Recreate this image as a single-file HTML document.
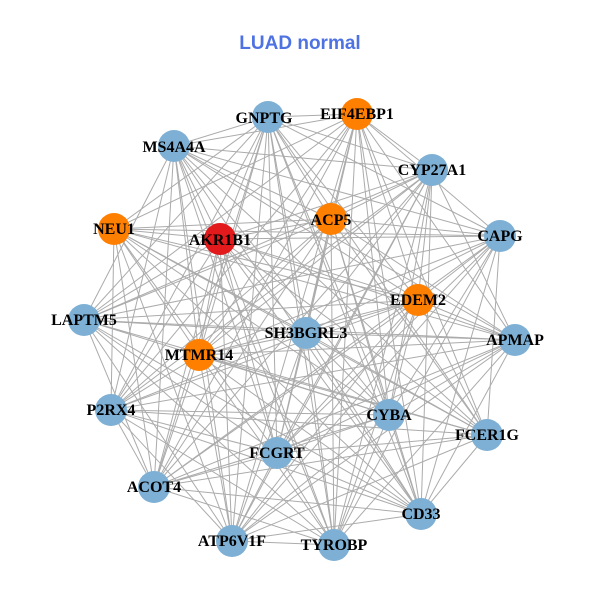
<!DOCTYPE html>
<html><head><meta charset="utf-8"><style>
html,body{margin:0;padding:0;background:#fff;}
svg{display:block;}
text.l{font-family:"Liberation Serif",serif;font-weight:bold;font-size:16px;fill:#000;text-anchor:middle;}
</style></head><body>
<svg id="s" width="600" height="600" xmlns="http://www.w3.org/2000/svg">
<rect width="600" height="600" fill="#fff"/>
<text x="300" y="49" font-family="Liberation Sans,sans-serif" font-weight="bold" font-size="19" fill="#4f72e3" text-anchor="middle">LUAD normal</text>
<g id="e" stroke="#ababab" stroke-width="1"></g>
<g id="n"></g>
<g>
<text class="l" x="264" y="123">GNPTG</text>
<text class="l" x="357" y="119">EIF4EBP1</text>
<text class="l" x="174" y="152">MS4A4A</text>
<text class="l" x="432" y="175">CYP27A1</text>
<text class="l" x="114" y="234">NEU1</text>
<text class="l" x="220" y="245">AKR1B1</text>
<text class="l" x="331" y="225">ACP5</text>
<text class="l" x="500" y="241">CAPG</text>
<text class="l" x="418" y="305">EDEM2</text>
<text class="l" x="84" y="325">LAPTM5</text>
<text class="l" x="306" y="338">SH3BGRL3</text>
<text class="l" x="515" y="345">APMAP</text>
<text class="l" x="199" y="360">MTMR14</text>
<text class="l" x="111" y="415">P2RX4</text>
<text class="l" x="389" y="420">CYBA</text>
<text class="l" x="487" y="440">FCER1G</text>
<text class="l" x="277" y="458">FCGRT</text>
<text class="l" x="154" y="492">ACOT4</text>
<text class="l" x="421" y="519">CD33</text>
<text class="l" x="232" y="546">ATP6V1F</text>
<text class="l" x="334" y="550">TYROBP</text>
</g>
</svg>
<script>
var B="#7eb0d5",O="#ff7f00",R="#e31a1c";
var N=[[268,117,B],[357,114,O],[174,146,B],[432,170,B],[114,229,O],[220,239,R],[331,219,O],[500,236,B],[418,300,O],[84,320,B],[306,333,B],[515,340,B],[199,355,O],[111,410,B],[389,415,B],[487,435,B],[277,453,B],[154,487,B],[421,514,B],[232,541,B],[334,545,B]];
var ns="http://www.w3.org/2000/svg",e=document.getElementById("e"),g=document.getElementById("n");
var skip={"0-1":0,"9-13":1,"11-15":1,"17-19":1,"18-20":1,"2-4":1,"3-7":1,"7-11":1};
for(var i=0;i<N.length;i++)for(var j=i+1;j<N.length;j++){
 if(skip[i+"-"+j])continue;
 if((i*7+j*3)%11==0)continue;
 var l=document.createElementNS(ns,"line");
 l.setAttribute("x1",N[i][0]);l.setAttribute("y1",N[i][1]);l.setAttribute("x2",N[j][0]);l.setAttribute("y2",N[j][1]);e.appendChild(l);}
N.forEach(function(p){var c=document.createElementNS(ns,"circle");c.setAttribute("cx",p[0]);c.setAttribute("cy",p[1]);c.setAttribute("r",16);c.setAttribute("fill",p[2]);g.appendChild(c);});
</script>
</body></html>
